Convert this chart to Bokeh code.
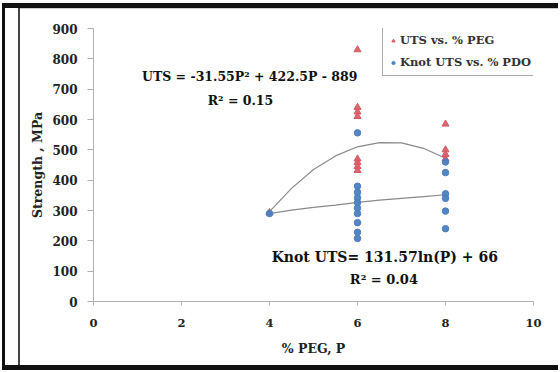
from bokeh.plotting import figure
from bokeh.layouts import column
from bokeh.models import Label, Legend, LegendItem, Range1d, FixedTicker
from bokeh.embed import file_html
from bokeh.resources import INLINE

# ---- data ----
uts_x = [4, 6, 6, 6, 6, 6, 6, 6, 6, 8, 8, 8, 8]
uts_y = [293, 830, 640, 625, 610, 470, 458, 445, 432, 585, 500, 485, 470]

knot_x = [4, 6, 6, 6, 6, 6, 6, 6, 6, 6, 6, 8, 8, 8, 8, 8, 8]
knot_y = [290, 556, 380, 360, 342, 326, 308, 290, 260, 228, 208, 460, 425, 355, 340, 298, 240]

uts_fit_x = [4, 4.5, 5, 5.5, 6, 6.5, 7, 7.5, 8]
uts_fit_y = [296, 373, 435, 480, 510, 524, 523, 505, 472]

knot_fit_x = [4, 4.5, 5, 5.5, 6, 6.5, 7, 7.5, 8]
knot_fit_y = [290, 301, 310, 318, 327, 334, 340, 346, 352]

x_ticks = [0, 2, 4, 6, 8, 10]
y_ticks = [0, 100, 200, 300, 400, 500, 600, 700, 800, 900]

FONT = "DejaVu Serif"

p = figure(width=558, height=370, output_backend="svg", toolbar_location=None,
           x_range=Range1d(0, 10), y_range=Range1d(0, 900),
           min_border_left=93, min_border_right=25, min_border_top=28, min_border_bottom=69)
p.outline_line_color = None
p.xgrid.visible = False
p.ygrid.visible = False
p.border_fill_alpha = 0

for ax in (p.xaxis[0], p.yaxis[0]):
    ax.axis_line_color = "#b0b0b0"
    ax.major_tick_line_color = "#b0b0b0"
    ax.minor_tick_line_color = None
    ax.major_tick_in = 0
    ax.major_label_text_font = FONT
    ax.major_label_text_font_style = "bold"
    ax.major_label_text_color = "#222222"
    ax.axis_label_text_font = FONT
    ax.axis_label_text_font_style = "bold"
    ax.axis_label_text_font_size = "12.5px"
    ax.axis_label_text_color = "#222222"

p.xaxis.ticker = FixedTicker(ticks=x_ticks)
p.yaxis.ticker = FixedTicker(ticks=y_ticks)
p.xaxis.axis_label = "% PEG, P"
p.yaxis.axis_label = "Strength , MPa"
p.xaxis.major_tick_out = 4
p.yaxis.major_tick_out = 6
p.xaxis.major_label_text_font_size = "11.5px"
p.yaxis.major_label_text_font_size = "12px"
p.xaxis.major_label_standoff = 13
p.xaxis.axis_label_standoff = 11
p.yaxis.major_label_standoff = 10
p.yaxis.axis_label_standoff = 4

# trendlines
p.line(uts_fit_x, uts_fit_y, line_color="#8a8a8a", line_width=1.2)
p.line(knot_fit_x, knot_fit_y, line_color="#8a8a8a", line_width=1.2)

r_uts = p.scatter(uts_x, uts_y, marker="triangle", size=7, fill_color="#d65862",
                  line_color="#d65862", fill_alpha=0.9)
r_knot = p.scatter(knot_x, knot_y, marker="circle", size=6.5, fill_color="#4a7fc0",
                   line_color="#4a7fc0", fill_alpha=0.95)

legend = Legend(items=[LegendItem(label="UTS vs. % PEG", renderers=[r_uts]),
                       LegendItem(label="Knot UTS vs. % PDO", renderers=[r_knot])],
                location=(289, 225))
legend.label_text_font = FONT
legend.label_text_font_style = "bold"
legend.label_text_font_size = "11.5px"
legend.label_text_color = "#333333"
legend.glyph_width = 8
legend.glyph_height = 11
legend.label_standoff = 3
legend.spacing = 8
legend.padding = 6
legend.margin = 0
legend.border_line_color = "#555555"
legend.border_line_width = 1
legend.background_fill_color = "#ffffff"
legend.background_fill_alpha = 1
p.add_layout(legend)

lbl_style = dict(text_font=FONT, text_font_style="bold",
                 text_color="#111111", text_align="center", text_baseline="middle")
p.add_layout(Label(x=3.55, y=742, text="UTS = -31.55P\u00b2 + 422.5P - 889",
                   text_font_size="12.5px", **lbl_style))
p.add_layout(Label(x=3.34, y=663, text="R\u00b2 = 0.15", text_font_size="12.5px", **lbl_style))
p.add_layout(Label(x=6.62, y=148, text="Knot UTS= 131.57ln(P) + 66",
                   text_font_size="14px", **lbl_style))
p.add_layout(Label(x=6.6, y=73, text="R\u00b2 = 0.04", text_font_size="13px", **lbl_style))

layout = column(p, width=558, height=370)
layout.styles = {
    "background": ("linear-gradient(#111,#111) 2px 3px / 3px 368px no-repeat, "
                   "linear-gradient(#111,#111) 2px 3px / 556px 5px no-repeat, "
                   "linear-gradient(#111,#111) 2px 365px / 556px 5px no-repeat, "
                   "linear-gradient(#444,#444) 18px 8px / 2px 357px no-repeat, "
                   "linear-gradient(#ccc,#ccc) 18px 8px / 540px 1px no-repeat, #ffffff"),
}

open("out.html", "w").write(file_html(layout, INLINE))
